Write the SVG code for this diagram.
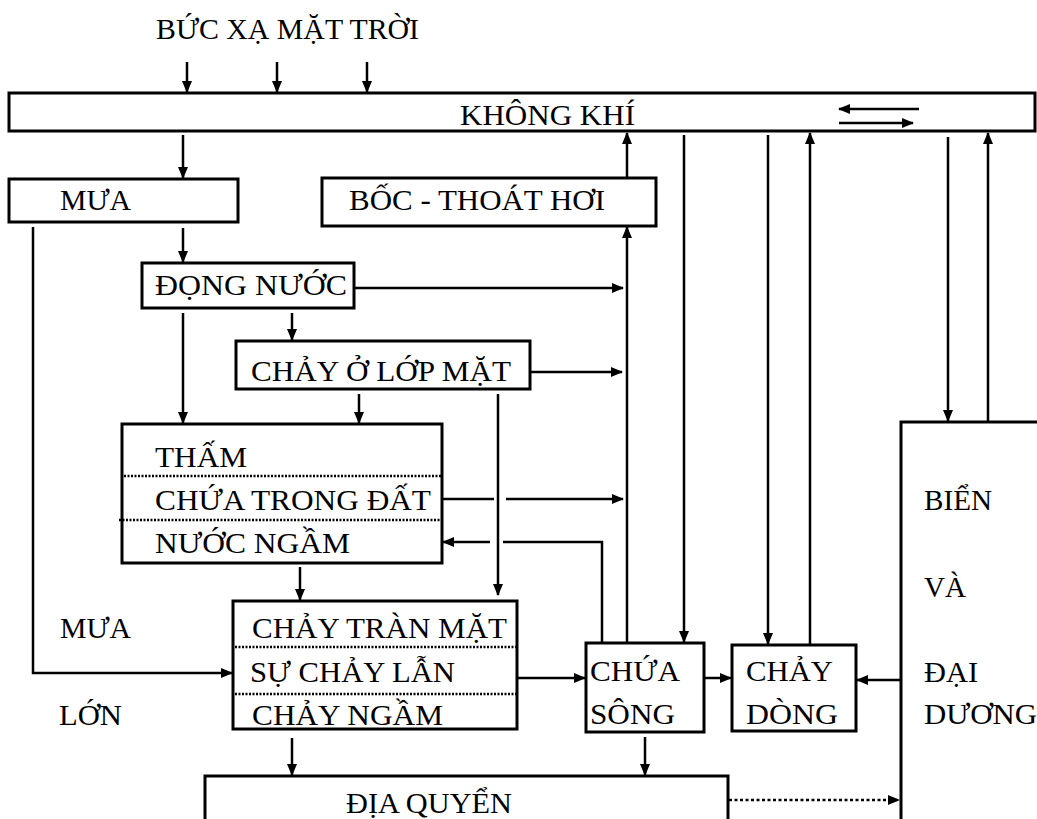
<svg xmlns="http://www.w3.org/2000/svg" width="1037" height="819" viewBox="0 0 1037 819">
<style>
text{font-family:"Liberation Serif","Times New Roman",serif;font-size:29px;fill:#000}
.box{fill:#fff;stroke:#000;stroke-width:3}
.open{fill:none;stroke:#000;stroke-width:3}
.dot{stroke:#000;stroke-width:2.5;stroke-dasharray:2 1.5;fill:none}
.ln{stroke:#000;stroke-width:2.5;fill:none}
.ar{stroke:#000;stroke-width:2.5;fill:none;marker-end:url(#ah)}
.dar{stroke:#000;stroke-width:2.5;fill:none;stroke-dasharray:3 2.5;marker-end:url(#ah)}
</style>
<defs>
<marker id="ah" markerUnits="userSpaceOnUse" markerWidth="12" markerHeight="10" refX="11" refY="5" orient="auto">
<path d="M0,0 L12,5 L0,10 z" fill="#000"/>
</marker>
</defs>
<rect width="1037" height="819" fill="#fff"/>
<text x="156" y="39" textLength="263" lengthAdjust="spacingAndGlyphs">BỨC XẠ MẶT TRỜI</text>
<g id="khongkhi">
<rect class="box" x="9" y="93" width="1026" height="38"/>
<text x="460" y="125" textLength="175" lengthAdjust="spacingAndGlyphs">KHÔNG KHÍ</text>
</g>
<g id="mua">
<rect class="box" x="9" y="179" width="229" height="43"/>
<text x="60" y="210" textLength="71" lengthAdjust="spacingAndGlyphs">MƯA</text>
</g>
<g id="bocthoathoi">
<rect class="box" x="322" y="178" width="334" height="48"/>
<text x="349" y="210" textLength="256" lengthAdjust="spacingAndGlyphs">BỐC - THOÁT HƠI</text>
</g>
<g id="dongnuoc">
<rect class="box" x="142" y="263" width="212" height="45"/>
<text x="155" y="295" textLength="192" lengthAdjust="spacingAndGlyphs">ĐỌNG NƯỚC</text>
</g>
<g id="chayolopmat">
<rect class="box" x="236" y="341" width="294" height="48"/>
<text x="251" y="381" textLength="260" lengthAdjust="spacingAndGlyphs">CHẢY Ở LỚP MẶT</text>
</g>
<g id="tham">
<rect class="box" x="122" y="424" width="320" height="139"/>
<line class="dot" x1="124" y1="476" x2="441" y2="476"/>
<line class="dot" x1="119" y1="520" x2="441" y2="520"/>
<text x="155" y="467" textLength="92" lengthAdjust="spacingAndGlyphs">THẤM</text>
<text x="155" y="510" textLength="276" lengthAdjust="spacingAndGlyphs">CHỨA TRONG ĐẤT</text>
<text x="155" y="553" textLength="195" lengthAdjust="spacingAndGlyphs">NƯỚC NGẦM</text>
</g>
<g id="chaytran">
<rect class="box" x="233" y="601" width="284" height="128"/>
<line class="dot" x1="235" y1="647" x2="516" y2="647"/>
<line class="dot" x1="235" y1="694" x2="516" y2="694"/>
<text x="252" y="638" textLength="255" lengthAdjust="spacingAndGlyphs">CHẢY TRÀN MẶT</text>
<text x="250" y="682" textLength="205" lengthAdjust="spacingAndGlyphs">SỰ CHẢY LẪN</text>
<text x="252" y="725" textLength="191" lengthAdjust="spacingAndGlyphs">CHẢY NGẦM</text>
</g>
<g id="mualon">
<text x="60" y="638" textLength="71" lengthAdjust="spacingAndGlyphs">MƯA</text>
<text x="59" y="725" textLength="63" lengthAdjust="spacingAndGlyphs">LỚN</text>
</g>
<g id="chuasong">
<rect class="box" x="586" y="643" width="118" height="89"/>
<text x="590" y="681" textLength="90" lengthAdjust="spacingAndGlyphs">CHỨA</text>
<text x="590" y="724" textLength="85" lengthAdjust="spacingAndGlyphs">SÔNG</text>
</g>
<g id="chaydong">
<rect class="box" x="732" y="645" width="124" height="86"/>
<text x="746" y="681" textLength="87" lengthAdjust="spacingAndGlyphs">CHẢY</text>
<text x="746" y="724" textLength="92" lengthAdjust="spacingAndGlyphs">DÒNG</text>
</g>
<g id="bien">
<path class="open" d="M1040,422 H901 V830"/>
<text x="924" y="510" textLength="68" lengthAdjust="spacingAndGlyphs">BIỂN</text>
<text x="924" y="597" textLength="42" lengthAdjust="spacingAndGlyphs">VÀ</text>
<text x="924" y="682" textLength="54" lengthAdjust="spacingAndGlyphs">ĐẠI</text>
<text x="924" y="724" textLength="113" lengthAdjust="spacingAndGlyphs">DƯƠNG</text>
</g>
<g id="diaquyen">
<path class="open" d="M205,830 V776 H728 V830"/>
<text x="346" y="813" textLength="166" lengthAdjust="spacingAndGlyphs">ĐỊA QUYỂN</text>
</g>
<g id="connectors">
<line class="ar" x1="187" y1="62" x2="187" y2="92"/>
<line class="ar" x1="277" y1="62" x2="277" y2="92"/>
<line class="ar" x1="367" y1="62" x2="367" y2="92"/>
<line class="ar" x1="919" y1="109" x2="839" y2="109"/>
<line class="ar" x1="839" y1="123" x2="913" y2="123"/>
<line class="ar" x1="183" y1="135" x2="183" y2="178"/>
<line class="ar" x1="627" y1="177" x2="627" y2="133"/>
<line class="ar" x1="684" y1="135" x2="684" y2="642"/>
<line class="ar" x1="768" y1="135" x2="768" y2="644"/>
<line class="ar" x1="810" y1="644" x2="810" y2="133"/>
<line class="ar" x1="948" y1="137" x2="948" y2="421"/>
<line class="ar" x1="988" y1="421" x2="988" y2="133"/>
<line class="ar" x1="183" y1="228" x2="183" y2="262"/>
<polyline class="ar" points="33,227 33,673 232,673"/>
<line class="ar" x1="354" y1="288" x2="623" y2="288"/>
<line class="ar" x1="183" y1="313" x2="183" y2="423"/>
<line class="ar" x1="292" y1="313" x2="292" y2="340"/>
<line class="ar" x1="530" y1="372" x2="622" y2="372"/>
<line class="ar" x1="359" y1="394" x2="359" y2="423"/>
<line class="ar" x1="498" y1="394" x2="498" y2="595"/>
<line class="ln" x1="442" y1="499" x2="494" y2="499"/>
<line class="ar" x1="506" y1="499" x2="623" y2="499"/>
<polyline class="ln" points="602,642 602,542 503,542"/>
<line class="ar" x1="490" y1="542" x2="443" y2="542"/>
<line class="ar" x1="627" y1="642" x2="627" y2="227"/>
<line class="ar" x1="300" y1="567" x2="300" y2="600"/>
<line class="ar" x1="517" y1="678" x2="585" y2="678"/>
<line class="ar" x1="704" y1="678" x2="731" y2="678"/>
<line class="ar" x1="901" y1="680" x2="857" y2="680"/>
<line class="ar" x1="292" y1="738" x2="292" y2="775"/>
<line class="ar" x1="645" y1="737" x2="645" y2="775"/>
<line class="dar" x1="729" y1="800" x2="899" y2="800"/>
</g>
</svg>
